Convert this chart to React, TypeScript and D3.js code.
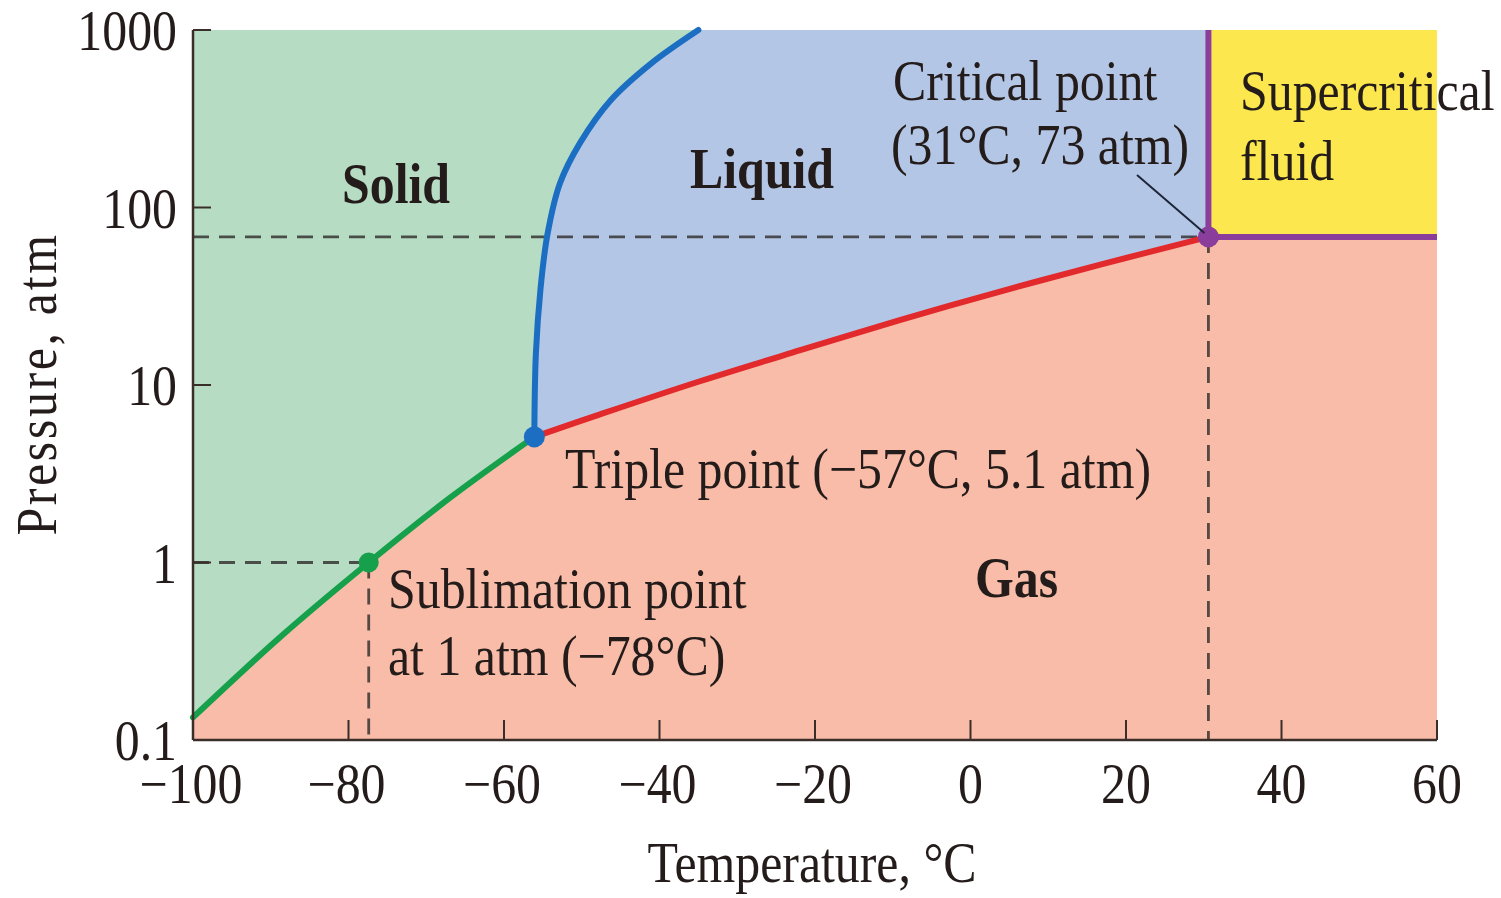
import React from 'react';
import * as d3 from 'd3';

// CO2 phase diagram
const tempTicks = [-100, -80, -60, -40, -20, 0, 20, 40, 60];
const pressureTicks = [0.1, 1, 10, 100, 1000];

const sublimationT = [-100, -88.7, -77.4, -66.8, -56.1];
const sublimationP = [0.134, 0.383, 1, 2.34, 5.1];

const meltingT = [-56.1, -55.9, -55.3, -54.4, -52.8, -50.2, -46.3, -41.1, -35];
const meltingP = [5.1, 15, 35, 71, 137, 232, 401, 647, 1000];

const vaporT = [-56.1, -47.65, -34.8, -21.9, -9.1, 3.8, 16.7, 30.6];
const vaporP = [5.1, 6.83, 10.5, 15.7, 23.2, 33.6, 47.7, 68.3];

const triplePoint = { T: -56.1, P: 5.1 };
const criticalPoint = { T: 30.6, P: 68.3 };
const sublimationPoint = { T: -77.4, P: 1 };

const W = 1501;
const H = 898;
const margin = { top: 30, right: 64, bottom: 158, left: 193 };

const FONT = '"Liberation Serif", "DejaVu Serif", serif';
const INK = '#231c1a';
const SQUASH = 0.89;

const x = d3.scaleLinear().domain([-100, 60]).range([margin.left, W - margin.right]);
const y = d3.scaleLog().domain([0.1, 1000]).range([H - margin.bottom, margin.top]);

const line = d3.line<[number, number]>()
    .x(d => x(d[0]))
    .y(d => y(d[1]))
    .curve(d3.curveCatmullRom.alpha(0.5));

const zip = (ts: number[], ps: number[]): [number, number][] => ts.map((t, i) => [t, ps[i]]);

const Label: React.FC<{ x: number; y: number; size?: number; bold?: boolean; anchor?: string; rotate?: number; spacing?: number; children: React.ReactNode }> = ({ x, y, size = 56, bold = false, anchor = 'start', rotate = 0, spacing = 0, children }) => (
    <text
        transform={`translate(${x},${y}) rotate(${rotate}) scale(${SQUASH},1)`}
        fontFamily={FONT}
        fontSize={size}
        fontWeight={bold ? 'bold' : 'normal'}
        textAnchor={anchor}
        letterSpacing={spacing}
        fill={INK}
    >
        {children}
    </text>
);

const App: React.FC = () => {
    const sub = zip(sublimationT, sublimationP);
    const melt = zip(meltingT, meltingP);
    const vap = zip(vaporT, vaporP);

    const meltDown = [...melt].reverse();
    const subDown = [...sub].reverse();
    const asL = (p: string | null) => (p || '').replace(/^M/, 'L');

    const solidPath = `M${x(-100)},${y(1000)}` + asL(line(meltDown)) + asL(line(subDown)) + 'Z';
    const liquidPath = (line(meltDown) || '') + asL(line(vap)) + `L${x(criticalPoint.T)},${y(1000)}Z`;

    const x0 = x(-100), x1 = x(60), yTop = y(1000), yBot = y(0.1);
    const cx = x(criticalPoint.T), cy = y(criticalPoint.P);
    const sx = x(sublimationPoint.T), sy = y(sublimationPoint.P);

    const dash = { stroke: '#2e2a2a', strokeOpacity: 0.8, strokeWidth: 2.8, strokeDasharray: '16 10', fill: 'none' };

    return (
        <div style={{ position: 'absolute', left: 0, top: 0, width: W, height: H, background: '#fff' }}>
            <svg width={W} height={H}>
                {/* regions */}
                <rect x={x0} y={yTop} width={x1 - x0} height={yBot - yTop} fill="#f8bca8" />
                <path d={solidPath} fill="#b6dcc3" />
                <path d={liquidPath} fill="#b4c6e6" />
                <rect x={cx} y={yTop} width={x1 - cx} height={cy - yTop} fill="#fce84e" />

                {/* guide lines */}
                <line x1={x0} x2={cx} y1={cy} y2={cy} {...dash} />
                <line x1={cx} x2={cx} y1={cy} y2={yBot} {...dash} />
                <line x1={x0} x2={sx} y1={sy} y2={sy} {...dash} />
                <line x1={sx} x2={sx} y1={sy} y2={yBot} {...dash} />

                {/* phase boundaries */}
                <path d={line(sub) || ''} fill="none" stroke="#17a04b" strokeWidth={6} strokeLinecap="round" />
                <path d={line(melt) || ''} fill="none" stroke="#1b6ec2" strokeWidth={6} strokeLinecap="round" />
                <path d={line(vap) || ''} fill="none" stroke="#e2292b" strokeWidth={6} />
                <line x1={cx} x2={cx} y1={cy} y2={yTop} stroke="#8b3d9c" strokeWidth={6} />
                <line x1={cx} x2={x1} y1={cy} y2={cy} stroke="#8b3d9c" strokeWidth={6} />

                <circle cx={sx} cy={sy} r={10} fill="#17a04b" />
                <circle cx={x(triplePoint.T)} cy={y(triplePoint.P)} r={10.5} fill="#1b6ec2" />
                <circle cx={cx} cy={cy} r={10.5} fill="#8b3d9c" />

                {/* axes */}
                <line x1={x0} x2={x0} y1={yTop} y2={yBot} stroke="#3a2e2b" strokeWidth={2.5} />
                <line x1={x0} x2={x1} y1={yBot} y2={yBot} stroke="#3a2e2b" strokeWidth={2.5} />
                {pressureTicks.map(p => (
                    <g key={p}>
                        <line x1={x0} x2={x0 + 18} y1={y(p)} y2={y(p)} stroke="#3a2e2b" strokeWidth={2} />
                        <Label x={177} y={y(p) + 20} anchor="end">{String(p)}</Label>
                    </g>
                ))}
                {tempTicks.map(t => (
                    <g key={t}>
                        <line x1={x(t)} x2={x(t)} y1={yBot} y2={yBot - 20} stroke="#3a2e2b" strokeWidth={2} />
                        <Label x={x(t) + (t < 0 ? -2 : 0)} y={803} anchor="middle">{t < 0 ? `\u2212${-t}` : String(t)}</Label>
                    </g>
                ))}

                <Label x={812} y={882} anchor="middle">Temperature, °C</Label>
                <Label x={56} y={384} anchor="middle" rotate={-90} spacing={3}>Pressure, atm</Label>

                {/* region names */}
                <Label x={342} y={203} bold>Solid</Label>
                <Label x={690} y={188} bold>Liquid</Label>
                <Label x={975} y={597} bold>Gas</Label>

                {/* annotations */}
                <Label x={893} y={100}>Critical point</Label>
                <Label x={891} y={164}>(31°C, 73 atm)</Label>
                <line x1={1137} y1={175} x2={cx - 4} y2={cy - 4} stroke="#1d2638" strokeWidth={2} />
                <Label x={1240} y={110}>Supercritical</Label>
                <Label x={1240} y={180}>fluid</Label>
                <Label x={565} y={488}>Triple point (−57°C, 5.1 atm)</Label>
                <Label x={388} y={608}>Sublimation point</Label>
                <Label x={388} y={675}>at 1 atm (−78°C)</Label>
            </svg>
        </div>
    );
};

export default App;
